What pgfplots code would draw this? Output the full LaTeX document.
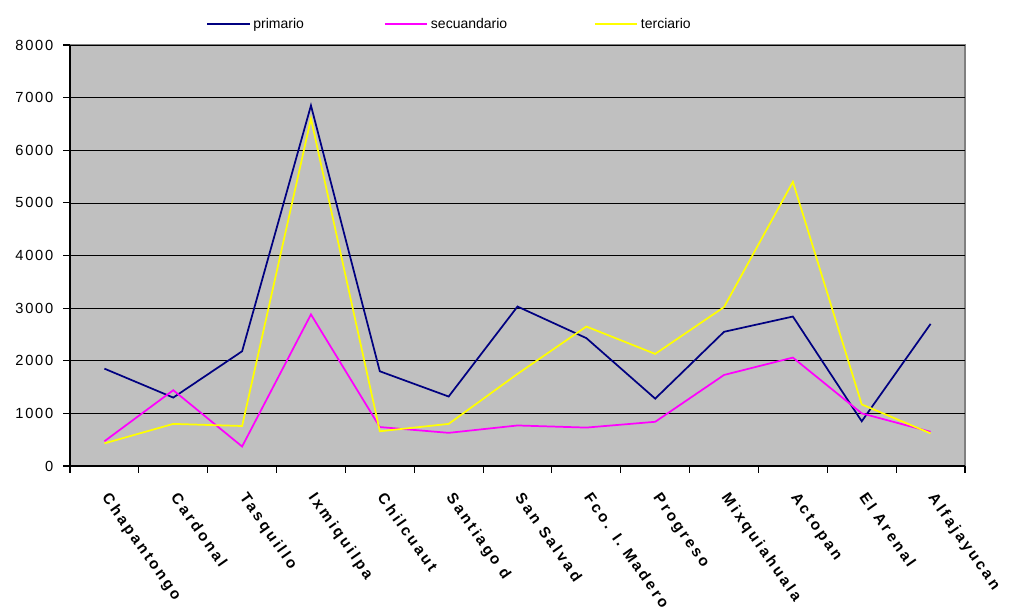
\documentclass[border=0pt]{standalone}
\usepackage{pgfplots}
\pgfplotsset{compat=1.18}
\usepackage{fontspec}
\setmainfont{Liberation Sans}
\newfontfamily\spaced[LetterSpace=18]{Liberation Sans}
\newfontfamily\spacedy[LetterSpace=12]{Liberation Sans}
\definecolor{bgc}{RGB}{192,192,192}
\definecolor{brd}{RGB}{128,128,128}
\definecolor{prim}{RGB}{0,0,128}
\definecolor{secu}{RGB}{255,0,255}
\definecolor{terc}{RGB}{255,255,0}
\begin{document}
\begin{tikzpicture}
\begin{axis}[
  scale only axis,
  width=671.25pt, height=315.75pt,
  xmin=-0.5, xmax=12.5,
  ymin=0, ymax=8000,
  axis x line=bottom, axis y line=left,
  axis line style={-, black, line width=0.8pt},
  axis background/.style={fill=bgc, draw=brd, line width=1.2pt},
  ytick={0,1000,...,8000},
  ymajorgrids,
  grid style={black, line width=0.5pt},
  tick align=outside,
  major tick length=5pt,
  tick style={black, line width=0.8pt},
  xtick={-0.5,0.5,...,12.5},
  xticklabels={},
  xticklabel={\relax},
  extra x ticks={0,1,...,12},
  extra x tick style={xtick style={draw=none}},
  extra x tick labels={Chapantongo,Cardonal,Tasquillo,Ixmiquilpa,Chilcuaut,Santiago d,San Salvad,Fco. I. Madero,Progreso,Mixquiahuala,Actopan,El Arenal,Alfajayucan},
  xticklabel style={rotate=-55, anchor=north west, font=\spaced\bfseries\fontsize{11.5}{13}\selectfont, inner sep=1pt, xshift=13pt, yshift=-3pt},
  yticklabel style={font=\spacedy\fontsize{11}{13}\selectfont, xshift=-4pt},
  /pgf/number format/assume math mode=true,
  scaled y ticks=false,
  y tick label style={/pgf/number format/1000 sep={}},
  legend columns=3,
  legend style={at={(0.1475,1)}, anchor=south west, yshift=7pt, draw=none, fill=none,
    font=\fontsize{10.5}{12}\selectfont,
    /tikz/column 2/.style={column sep=58pt},
    /tikz/column 4/.style={column sep=63pt}},
  legend image code/.code={\draw (0pt,0pt) -- (32pt,0pt);},
]
\addplot[prim, line width=1.3pt] coordinates {(0,1850) (1,1300) (2,2180) (3,6850) (4,1800) (5,1320) (6,3030) (7,2430) (8,1280) (9,2550) (10,2840) (11,850) (12,2700)};
\addlegendentry{primario}
\addplot[secu, line width=1.3pt] coordinates {(0,470) (1,1440) (2,370) (3,2880) (4,740) (5,630) (6,770) (7,730) (8,840) (9,1730) (10,2060) (11,1000) (12,650)};
\addlegendentry{secuandario}
\addplot[terc, line width=1.3pt] coordinates {(0,430) (1,800) (2,760) (3,6600) (4,660) (5,800) (6,1750) (7,2650) (8,2130) (9,3020) (10,5400) (11,1170) (12,620)};
\addlegendentry{terciario}
\end{axis}
\pgfresetboundingbox
\path (current axis.south west) ++(-52.5pt,-109.5pt) coordinate (bbsw);
\path (current axis.north east) ++(35.25pt,33.75pt) coordinate (bbne);
\path[use as bounding box] (bbsw) rectangle (bbne);
\end{tikzpicture}
\end{document}
